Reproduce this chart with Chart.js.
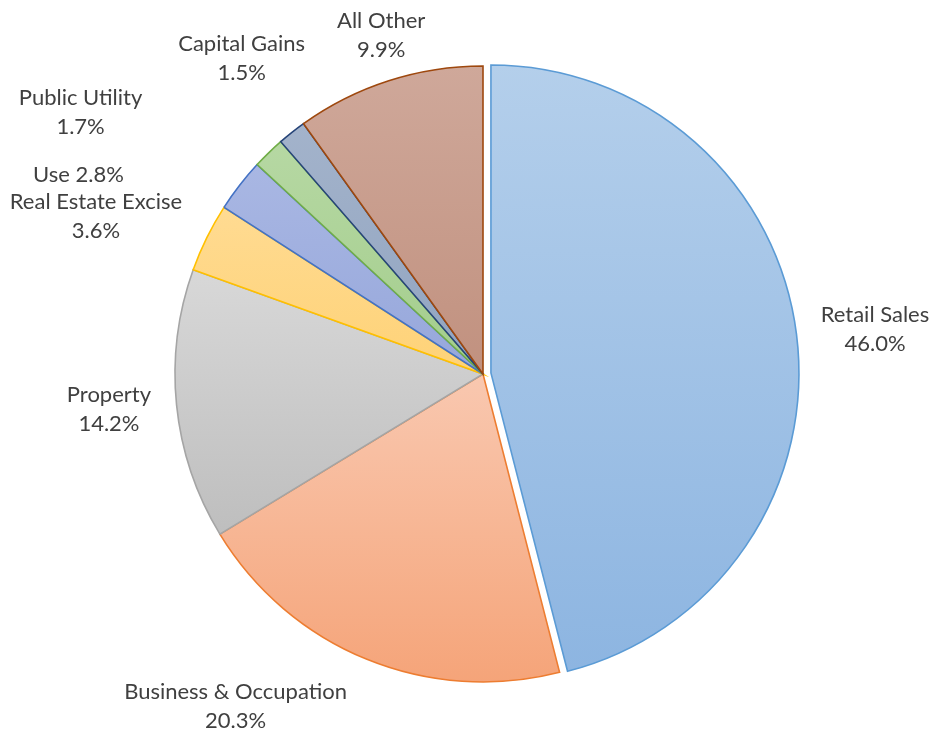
<!DOCTYPE html>
<html><head><meta charset="utf-8">
<script src="https://cdn.jsdelivr.net/npm/chart.js@4.4.0/dist/chart.umd.min.js"></script>
<style>html,body{margin:0;padding:0;background:#fff}#wrap{width:935px;height:733px;position:relative}</style>
</head><body><div id="wrap"><canvas id="c"></canvas></div>
<script>
// ---- data ----
const categories = ['Retail Sales', 'Business & Occupation', 'Property', 'Real Estate Excise', 'Use', 'Public Utility', 'Capital Gains', 'All Other'];
const shares = [46.0, 20.3, 14.2, 3.6, 2.8, 1.7, 1.5, 9.9];
const pctLabels = ['46.0%', '20.3%', '14.2%', '3.6%', '2.8%', '1.7%', '1.5%', '9.9%'];

// ---- styles ----
const gradTop = ['#b4cfeb', '#f9c8b0', '#d8d8d8', '#ffdb92', '#a9b7e3', '#b6d8a3', '#a3b3cb', '#cfa89a'];
const gradBottom = ['#8db5e1', '#f5a479', '#bebebe', '#fed277', '#96a7db', '#a3cd8c', '#91a4c0', '#c1917f'];
const borders = ['#5b9bd5', '#ed7d31', '#a5a5a5', '#ffc000', '#4472c4', '#70ad47', '#264478', '#9e480e'];
const explodePx = [8, 0, 0, 0, 0, 0, 0, 0];
// label placement relative to each slice: angle shift from slice mid (deg), distance (x radius), inline
const labelShift = [0.65, 14.5, 0.3, -4.1, -11.6, -12.9, 0.9, 1.1];
const labelDist = [1.281, 1.346, 1.22, 1.357, 1.464, 1.558, 1.289, 1.149];
const labelInline = [false, false, false, false, true, false, false, false];
const RADIUS = 308;
const FONT = '22px Lato';
const LINE_H = 29;

function sliceGradient(ctx) {
  const chart = ctx.chart;
  const ca = chart.chartArea;
  const i = ctx.dataIndex;
  if (!ca) return gradTop[i];
  const data = ctx.dataset.data;
  const total = data.reduce((a, b) => a + b, 0);
  let cum = 0;
  for (let k = 0; k < i; k++) cum += data[k];
  const a0 = -Math.PI / 2 + cum / total * 2 * Math.PI;
  const a1 = a0 + data[i] / total * 2 * Math.PI;
  const mid = (a0 + a1) / 2;
  const cy = (ca.top + ca.bottom) / 2 + Math.sin(mid) * explodePx[i];
  const ys = [cy, cy + Math.sin(a0) * RADIUS, cy + Math.sin(a1) * RADIUS];
  for (const t of [-Math.PI / 2, Math.PI / 2, 3 * Math.PI / 2]) {
    if (t > a0 && t < a1) ys.push(cy + Math.sin(t) * RADIUS);
  }
  const y0 = Math.min(...ys), y1 = Math.max(...ys);
  const g = chart.ctx.createLinearGradient(0, y0, 0, y1);
  g.addColorStop(0, gradTop[i]);
  g.addColorStop(1, gradBottom[i]);
  return g;
}

// pull exploded slices outward along their mid angle without enlarging them
const explodePlugin = {
  id: 'explode',
  afterUpdate(chart) {
    const meta = chart.getDatasetMeta(0);
    meta.data.forEach((arc, i) => {
      if (!explodePx[i] || arc._exploded) return;
      arc.draw = function (ctx, area) {
        const h = (this.startAngle + this.endAngle) / 2;
        ctx.save();
        ctx.translate(Math.cos(h) * explodePx[i], Math.sin(h) * explodePx[i]);
        Object.getPrototypeOf(this).draw.call(this, ctx, area);
        ctx.restore();
      };
      arc._exploded = true;
    });
  }
};

const labelPlugin = {
  id: 'sliceLabels',
  afterDatasetsDraw(chart) {
    const meta = chart.getDatasetMeta(0);
    const c = chart.ctx;
    c.save();
    c.font = FONT;
    c.fillStyle = '#404040';
    c.textAlign = 'center';
    c.textBaseline = 'middle';
    meta.data.forEach((arc, i) => {
      const p = arc.getProps(['x', 'y', 'startAngle', 'endAngle', 'outerRadius'], true);
      const a = (p.startAngle + p.endAngle) / 2 + labelShift[i] * Math.PI / 180;
      const d = labelDist[i] * p.outerRadius;
      const x = p.x + Math.cos(a) * d;
      const y = p.y + Math.sin(a) * d;
      const lines = labelInline[i] ? [categories[i] + ' ' + pctLabels[i]] : [categories[i], pctLabels[i]];
      const h0 = y - (lines.length - 1) * LINE_H / 2;
      lines.forEach((t, k) => c.fillText(t, x, h0 + k * LINE_H));
    });
    c.restore();
  }
};

new Chart(document.getElementById('c'), {
  type: 'pie',
  data: {
    labels: categories,
    datasets: [{
      data: shares,
      backgroundColor: sliceGradient,
      borderColor: borders,
      borderWidth: 1.6,
      borderJoinStyle: 'miter',
      offset: 0,
      hoverOffset: 0
    }]
  },
  options: {
    responsive: true,
    maintainAspectRatio: false,
    animation: false,
    radius: RADIUS,
    layout: { padding: { left: 31, right: 0, top: 15, bottom: 0 } },
    plugins: { legend: { display: false }, tooltip: { enabled: false } }
  },
  plugins: [explodePlugin, labelPlugin]
});
</script>
</body></html>
